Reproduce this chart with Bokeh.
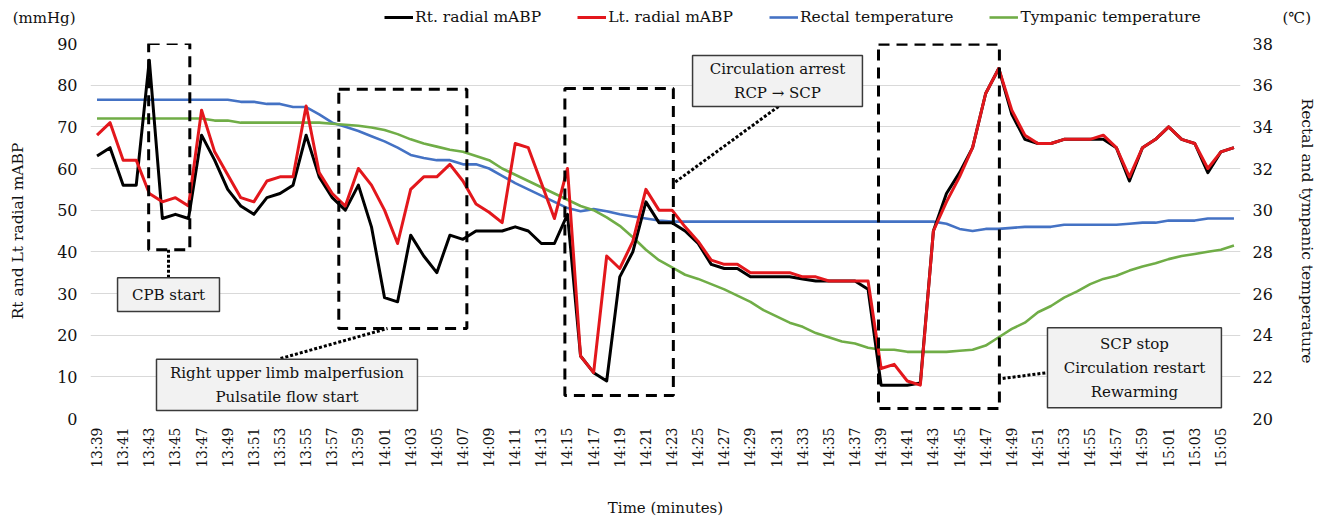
import numpy as np
from bokeh.plotting import figure
from bokeh.layouts import column
from bokeh.models import (Range1d, LinearAxis, FixedTicker, Legend, LegendItem,
                          BoxAnnotation, Label, ColumnDataSource)
from bokeh.embed import file_html
from bokeh.resources import INLINE

# ---------------- data ----------------
times = [
    "13:39", "13:40", "13:41", "13:42", "13:43", "13:44", "13:45", "13:46", "13:47", "13:48",
    "13:49", "13:50", "13:51", "13:52", "13:53", "13:54", "13:55", "13:56", "13:57", "13:58",
    "13:59", "14:00", "14:01", "14:02", "14:03", "14:04", "14:05", "14:06", "14:07", "14:08",
    "14:09", "14:10", "14:11", "14:12", "14:13", "14:14", "14:15", "14:16", "14:17", "14:18",
    "14:19", "14:20", "14:21", "14:22", "14:23", "14:24", "14:25", "14:26", "14:27", "14:28",
    "14:29", "14:30", "14:31", "14:32", "14:33", "14:34", "14:35", "14:36", "14:37", "14:38",
    "14:39", "14:40", "14:41", "14:42", "14:43", "14:44", "14:45", "14:46", "14:47", "14:48",
    "14:49", "14:50", "14:51", "14:52", "14:53", "14:54", "14:55", "14:56", "14:57", "14:58",
    "14:59", "15:00", "15:01", "15:02", "15:03", "15:04", "15:05", "15:06",
]

rt_mabp = [
    63, 65, 56, 56, 86, 48, 49, 48, 68, 62,
    55, 51, 49, 53, 54, 56, 68, 58, 53, 50,
    56, 46, 29, 28, 44, 39, 35, 44, 43, 45,
    45, 45, 46, 45, 42, 42, 49, 15, 11, 9,
    34, 40, 52, 47, 47, 45, 42, 37, 36, 36,
    34, 34, 34, 34, 33.5, 33, 33, 33, 33, 31,
    8, 8, 8, 8.5, 45, 54, 59, 65, 78, 84,
    73, 67, 66, 66, 67, 67, 67, 67, 65, 57,
    65, 67, 70, 67, 66, 59, 64, 65,
]

lt_mabp = [
    68, 71, 62, 62, 54, 52, 53, 51, 74, 64,
    58.5, 53, 52, 57, 58, 58, 75, 59, 54, 51,
    60, 56, 50, 42, 55, 58, 58, 61, 57, 51.5,
    49.5, 47, 66, 65, 56.5, 48, 60, 15, 11, 39,
    36, 42.5, 55, 50, 50, 46, 42.5, 38, 37, 37,
    35, 35, 35, 35, 34, 34, 33, 33, 33, 33,
    12, 13, 9, 8, 45, 52, 58, 65, 78, 84,
    74, 68, 66, 66, 67, 67, 67, 68, 65, 58,
    65, 67, 70, 67, 66, 60, 64, 65,
]

rectal_temp = [
    35.3, 35.3, 35.3, 35.3, 35.3, 35.3, 35.3, 35.3, 35.3, 35.3,
    35.3, 35.2, 35.2, 35.1, 35.1, 34.95, 34.95, 34.6, 34.2, 34.0,
    33.8, 33.55, 33.3, 33.0, 32.65, 32.5, 32.4, 32.4, 32.2, 32.2,
    32.0, 31.65, 31.3, 31.0, 30.7, 30.4, 30.1, 29.95, 30.05, 29.95,
    29.8, 29.7, 29.6, 29.5, 29.45, 29.45, 29.45, 29.45, 29.45, 29.45,
    29.45, 29.45, 29.45, 29.45, 29.45, 29.45, 29.45, 29.45, 29.45, 29.45,
    29.45, 29.45, 29.45, 29.45, 29.45, 29.35, 29.1, 29.0, 29.1, 29.1,
    29.15, 29.2, 29.2, 29.2, 29.3, 29.3, 29.3, 29.3, 29.3, 29.35,
    29.4, 29.4, 29.5, 29.5, 29.5, 29.6, 29.6, 29.6,
]

tympanic_temp = [
    34.4, 34.4, 34.4, 34.4, 34.4, 34.4, 34.4, 34.4, 34.4, 34.3,
    34.3, 34.2, 34.2, 34.2, 34.2, 34.2, 34.2, 34.2, 34.15, 34.1,
    34.05, 33.97, 33.85, 33.65, 33.4, 33.2, 33.05, 32.9, 32.8, 32.6,
    32.4, 32.0, 31.7, 31.4, 31.1, 30.8, 30.5, 30.2, 30.0, 29.65,
    29.25, 28.7, 28.1, 27.6, 27.25, 26.9, 26.7, 26.45, 26.2, 25.9,
    25.6, 25.2, 24.9, 24.6, 24.4, 24.1, 23.9, 23.7, 23.6, 23.4,
    23.3, 23.3, 23.2, 23.2, 23.2, 23.2, 23.25, 23.3, 23.5, 23.9,
    24.3, 24.6, 25.1, 25.4, 25.8, 26.1, 26.45, 26.7, 26.85, 27.1,
    27.3, 27.45, 27.65, 27.8, 27.9, 28.0, 28.1, 28.3,
]

left_ticks = [0, 10, 20, 30, 40, 50, 60, 70, 80, 90]
right_ticks = [20, 22, 24, 26, 28, 30, 32, 34, 36, 38]

series_labels = ["Rt. radial mABP", "Lt. radial mABP",
                 "Rectal temperature", "Tympanic temperature"]
series_colors = ["black", "#E3171C", "#4472C4", "#70AD47"]
series_widths = [3, 3, 2.6, 2.6]

left_unit = "(mmHg)"
right_unit = "(\u2103)"

# annotation regions (x in minute index, y in mmHg)
dash_left = [3.95, 18.5, 35.8, 59.8]
dash_right = [7.1, 28.3, 44.1, 69.05]
dash_top = [90, 79, 79.2, 89.8]
dash_bottom = [40.5, 21.6, 5.5, 2.4]

note_texts = ["CPB start",
              "Right upper limb malperfusion\nPulsatile flow start",
              "Circulation arrest\nRCP \u2192 SCP",
              "SCP stop\nCirculation restart\nRewarming"]
note_left = [1.57, 4.55, 45.57, 72.73]
note_right = [9.37, 24.52, 58.57, 86.04]
note_top = [33.8, 14.2, 87.1, 21.8]
note_bottom = [25.7, 1.9, 74.9, 2.6]

conn_x0 = [5.47, 14.04, 52.15, 69.3]
conn_y0 = [40.5, 14.4, 74.9, 9.6]
conn_x1 = [5.47, 22.23, 44.1, 72.7]
conn_y1 = [33.8, 21.6, 56.4, 11.0]

FONT = "DejaVu Serif"
TXT = "#111111"
W = 1328
TOP_H = 33
MAIN_H = 526 - TOP_H
BL, BR = 90, 88


def bare_axis(ax):
    ax.axis_line_color = None
    ax.major_tick_line_color = None
    ax.minor_tick_line_color = None
    ax.major_tick_out = 0
    ax.major_tick_in = 0
    ax.minor_tick_out = 0
    ax.major_label_text_font = FONT
    ax.major_label_text_color = TXT
    ax.axis_label_text_font = FONT
    ax.axis_label_text_font_style = "normal"
    ax.axis_label_text_color = TXT


# ---------------- header strip (legend + unit labels) ----------------
top = figure(width=W, height=TOP_H, output_backend="svg", toolbar_location=None,
             x_range=Range1d(0, 1), y_range=Range1d(0, TOP_H),
             x_axis_type=None,
             min_border_left=BL, min_border_right=BR, min_border_top=0,
             min_border_bottom=0)
top.outline_line_color = None
top.grid.visible = False
top.title.visible = False

tl = top.yaxis[0]
bare_axis(tl)
tl.ticker = FixedTicker(ticks=[16])
tl.major_label_overrides = {16: left_unit}
tl.major_label_text_font_size = "15px"
tl.major_label_standoff = 15

tr = LinearAxis(ticker=FixedTicker(ticks=[16]))
bare_axis(tr)
tr.major_label_overrides = {16: right_unit}
tr.major_label_text_font_size = "15px"
tr.major_label_standoff = 42
top.add_layout(tr, "right")

dummy = []
for c, w in zip(series_colors, series_widths):
    dummy.append(top.line(x=[np.nan], y=[np.nan], line_color=c, line_width=w))

legend = Legend(items=[LegendItem(label=lab, renderers=[r])
                       for lab, r in zip(series_labels, dummy)],
                orientation="horizontal", location=(384 - BL, 6),
                glyph_width=29, glyph_height=20, label_standoff=2, spacing=36,
                padding=0, margin=0, border_line_color=None,
                background_fill_alpha=0, label_text_font=FONT,
                label_text_font_size="15.5px", label_text_color=TXT)
top.add_layout(legend, "center")

# ---------------- main chart ----------------
n = len(times)
x = np.arange(n)

p = figure(width=W, height=MAIN_H, output_backend="svg", toolbar_location=None,
           x_range=Range1d(-0.5, n - 0.5), y_range=Range1d(0, 90),
           min_border_left=BL, min_border_right=BR, min_border_top=43 - TOP_H,
           min_border_bottom=108)
p.outline_line_color = None
p.title.visible = False
p.extra_y_ranges = {"temp": Range1d(20, 38)}

src = ColumnDataSource(dict(x=x, rt=rt_mabp, lt=lt_mabp,
                            rectal=rectal_temp, tymp=tympanic_temp))

p.line("x", "rectal", source=src, y_range_name="temp",
       line_color=series_colors[2], line_width=series_widths[2], line_join="round")
p.line("x", "tymp", source=src, y_range_name="temp",
       line_color=series_colors[3], line_width=series_widths[3], line_join="round")
p.line("x", "rt", source=src, line_color=series_colors[0],
       line_width=series_widths[0], line_join="round")
p.line("x", "lt", source=src, line_color=series_colors[1],
       line_width=series_widths[1], line_join="round")

p.xgrid.visible = False
p.ygrid.ticker = FixedTicker(ticks=left_ticks)
p.ygrid.grid_line_color = "#D9D9D9"
p.ygrid.grid_line_width = 1

xa = p.xaxis[0]
bare_axis(xa)
tick_idx = [int(i) for i in x[::2]]
xa.ticker = FixedTicker(ticks=tick_idx)
xa.major_label_overrides = {i: times[i] for i in tick_idx}
xa.major_label_orientation = np.pi / 2
xa.major_label_text_font_size = "14px"
xa.major_label_standoff = 9
xa.axis_label = "Time (minutes)"
xa.axis_label_text_font_size = "15px"
xa.axis_label_standoff = 28

ya = p.yaxis[0]
bare_axis(ya)
ya.ticker = FixedTicker(ticks=left_ticks)
ya.major_label_text_font_size = "16px"
ya.major_label_standoff = 13
ya.axis_label = "Rt and Lt radial mABP"
ya.axis_label_text_font_size = "15.5px"
ya.axis_label_standoff = 27

ra = LinearAxis(y_range_name="temp", ticker=FixedTicker(ticks=right_ticks))
bare_axis(ra)
ra.major_label_text_font_size = "16px"
ra.major_label_standoff = 12
ra.axis_label = "Rectal and tympanic temperature"
ra.axis_label_text_font_size = "15.5px"
ra.axis_label_standoff = 22
p.add_layout(ra, "right")

# dashed highlight boxes
for l, r, t, b in zip(dash_left, dash_right, dash_top, dash_bottom):
    p.add_layout(BoxAnnotation(left=l, right=r, top=t, bottom=b,
                               fill_alpha=0, line_color="black", line_alpha=1,
                               line_width=3, line_dash="11 7"))

# dotted connectors
csrc = ColumnDataSource(dict(x0=conn_x0, y0=conn_y0, x1=conn_x1, y1=conn_y1))
p.segment("x0", "y0", "x1", "y1", source=csrc, line_color="black",
          line_width=3, line_dash="3 2")

# callout boxes
for txt, l, r, t, b in zip(note_texts, note_left, note_right, note_top, note_bottom):
    p.add_layout(BoxAnnotation(left=l, right=r, top=t, bottom=b,
                               fill_color="#F2F2F2", fill_alpha=1,
                               line_color="#3A3A3A", line_alpha=1,
                               line_width=1.5))
    p.add_layout(Label(x=(l + r) / 2, y=(t + b) / 2, text=txt,
                       text_align="center", text_baseline="middle",
                       text_font=FONT, text_font_size="15px",
                       text_line_height=1.33, text_color=TXT))

layout = column(top, p, spacing=0)
open("out.html", "w").write(file_html(layout, INLINE))
